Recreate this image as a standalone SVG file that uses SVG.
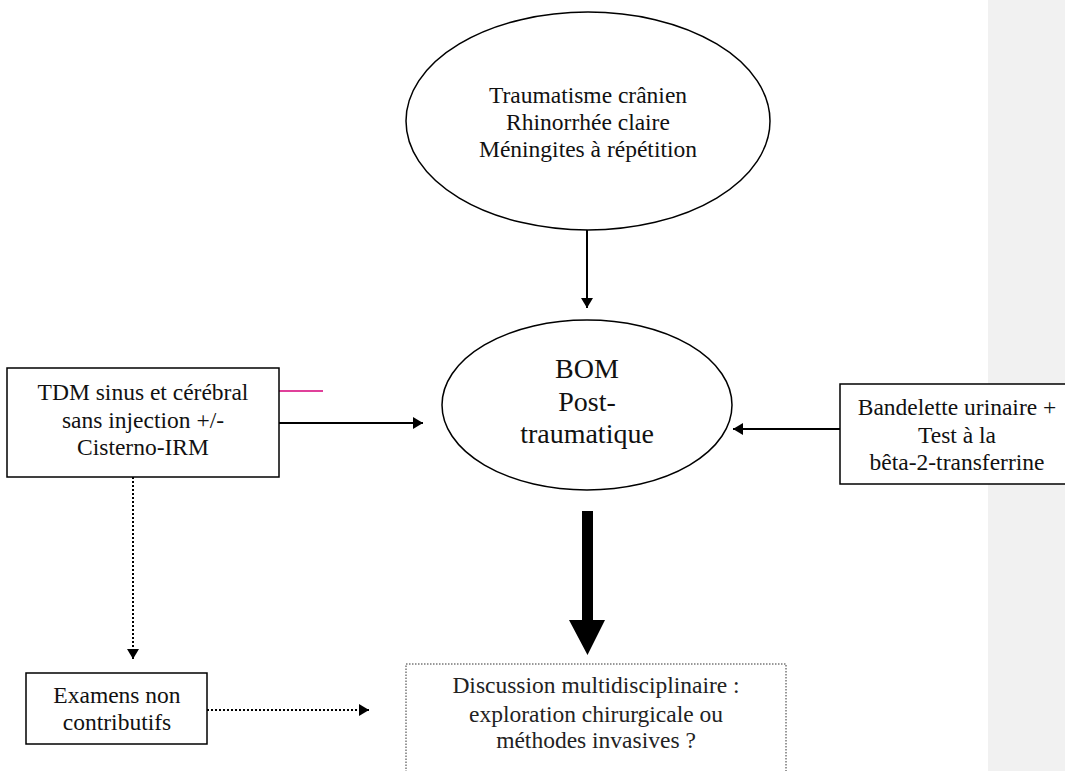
<svg xmlns="http://www.w3.org/2000/svg" width="1065" height="771" viewBox="0 0 1065 771">
<style>
  text { font-family: "Liberation Serif", "Times New Roman", serif; fill: #111; text-anchor: middle; }
  .t23 { font-size: 23.5px; }
  .t28 { font-size: 28px; }
  .shape { fill: #fff; stroke: #000; stroke-width: 1.5; }
  .line { stroke: #000; stroke-width: 2; fill: none; }
  .dot { stroke: #000; stroke-width: 2; stroke-dasharray: 2 2; fill: none; }
</style>
<defs>
  <marker id="ah" viewBox="0 0 10 12" refX="10" refY="6" markerWidth="10" markerHeight="12" markerUnits="userSpaceOnUse" orient="auto">
    <path d="M0,0 L10,6 L0,12 Z" fill="#000"/>
  </marker>
</defs>
<rect x="0" y="0" width="1065" height="771" fill="#fff"/>
<rect x="988" y="0" width="77" height="771" fill="#f1f1f1"/>

<g id="connectors">
  <line class="line" x1="587" y1="230" x2="587" y2="308" marker-end="url(#ah)"/>
  <line class="line" x1="279" y1="423" x2="423" y2="423" marker-end="url(#ah)"/>
  <line class="line" x1="840" y1="429" x2="733" y2="429" marker-end="url(#ah)"/>
  <line stroke="#e0409a" stroke-width="2" x1="279" y1="391" x2="323" y2="391"/>
  <line class="dot" x1="133" y1="477" x2="133" y2="659" marker-end="url(#ah)"/>
  <line class="dot" x1="207" y1="710" x2="369" y2="710" marker-end="url(#ah)"/>
  <path d="M582,511 L593,511 L593,620 L605,620 L587.5,655 L569,620 L582,620 Z" fill="#000"/>
</g>

<g id="node-trauma">
  <ellipse class="shape" cx="588" cy="121" rx="182" ry="109"/>
  <text class="t23" x="588" y="103">Traumatisme crânien</text>
  <text class="t23" x="588" y="130">Rhinorrhée claire</text>
  <text class="t23" x="588" y="157">Méningites à répétition</text>
</g>

<g id="node-bom">
  <ellipse class="shape" cx="587" cy="405" rx="145" ry="85"/>
  <text class="t28" x="587" y="378">BOM</text>
  <text class="t28" x="587" y="411">Post-</text>
  <text class="t28" x="587" y="443">traumatique</text>
</g>

<g id="node-tdm">
  <rect class="shape" x="7" y="368" width="272" height="109"/>
  <text class="t23" x="143" y="400">TDM sinus et cérébral</text>
  <text class="t23" x="143" y="428">sans injection +/-</text>
  <text class="t23" x="143" y="455">Cisterno-IRM</text>
</g>

<g id="node-bandelette">
  <rect class="shape" x="840" y="384" width="234" height="100"/>
  <text class="t23" x="957" y="415">Bandelette urinaire +</text>
  <text class="t23" x="957" y="443">Test à la</text>
  <text class="t23" x="957" y="470">bêta-2-transferrine</text>
</g>

<g id="node-examens">
  <rect class="shape" x="26" y="673" width="181" height="71"/>
  <text class="t23" x="117" y="703">Examens non</text>
  <text class="t23" x="117" y="730">contributifs</text>
</g>

<g id="node-discussion">
  <rect x="406" y="664" width="380" height="130" fill="#fff" stroke="#333" stroke-width="1" stroke-dasharray="1.5 1.5"/>
  <text class="t23" x="596" y="693" style="fill:#222">Discussion multidisciplinaire :</text>
  <text class="t23" x="596" y="722" style="fill:#222">exploration chirurgicale ou</text>
  <text class="t23" x="596" y="748" style="fill:#222">méthodes invasives ?</text>
</g>
</svg>
